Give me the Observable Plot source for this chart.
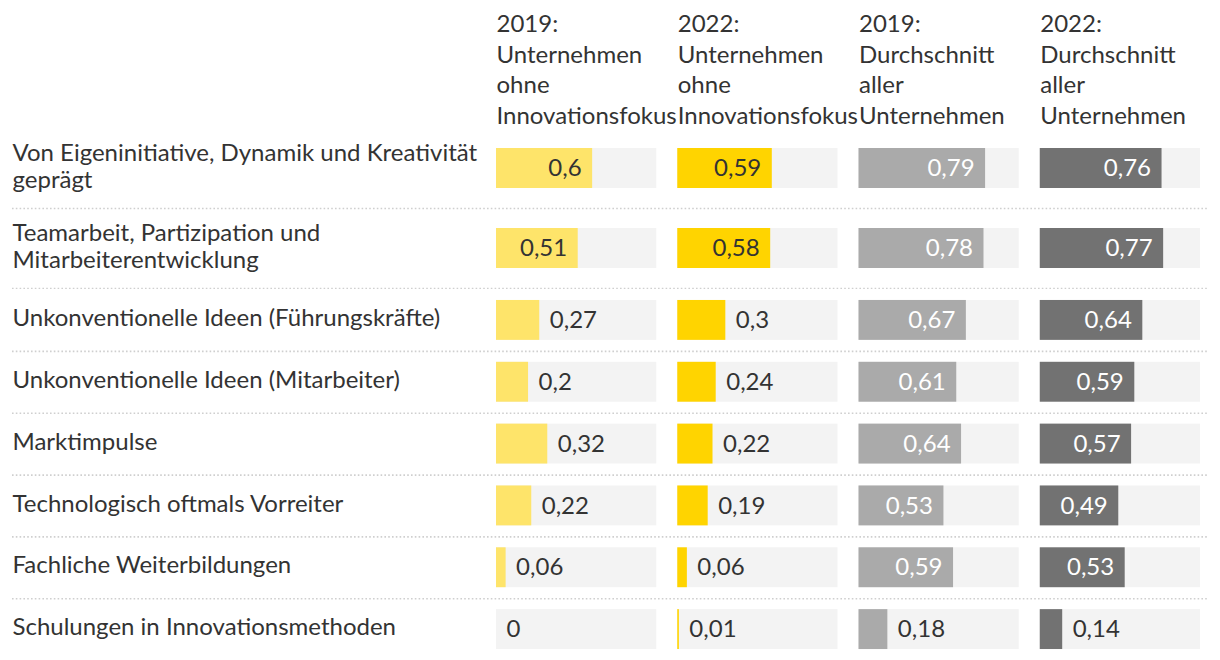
<!DOCTYPE html>
<html>
<head>
<meta charset="utf-8">
<script src="https://cdn.jsdelivr.net/npm/d3@7"></script>
<script src="https://cdn.jsdelivr.net/npm/@observablehq/plot@0.6"></script>
<style>
  html, body { margin: 0; padding: 0; background: #fff; }
  #chart svg { display: block; }
</style>
</head>
<body>
<div id="chart"></div>
<script>
// ---- data ----
const rows = [
  "Von Eigeninitiative, Dynamik und Kreativität\ngeprägt",
  "Teamarbeit, Partizipation und\nMitarbeiterentwicklung",
  "Unkonventionelle Ideen (Führungskräfte)",
  "Unkonventionelle Ideen (Mitarbeiter)",
  "Marktimpulse",
  "Technologisch oftmals Vorreiter",
  "Fachliche Weiterbildungen",
  "Schulungen in Innovationsmethoden"
];
const columns = [
  "2019:\nUnternehmen\nohne\nInnovationsfokus",
  "2022:\nUnternehmen\nohne\nInnovationsfokus",
  "2019:\nDurchschnitt\naller\nUnternehmen",
  "2022:\nDurchschnitt\naller\nUnternehmen"
];
const v2019ohne = [0.6, 0.51, 0.27, 0.2, 0.32, 0.22, 0.06, 0];
const v2022ohne = [0.59, 0.58, 0.3, 0.24, 0.22, 0.19, 0.06, 0.01];
const v2019alle = [0.79, 0.78, 0.67, 0.61, 0.64, 0.53, 0.59, 0.18];
const v2022alle = [0.76, 0.77, 0.64, 0.59, 0.57, 0.49, 0.53, 0.14];
const colColors = ["#fee46a", "#ffd400", "#aaaaaa", "#727272"];
const insideTextColors = ["#333333", "#333333", "#ffffff", "#ffffff"];

// ---- table ----
const series = [v2019ohne, v2022ohne, v2019alle, v2022alle];
const table = [];
rows.forEach((r, i) => series.forEach((s, j) => table.push({row: r, col: columns[j], ci: j, value: s[i]})));
const fmt = v => String(v).replace(".", ",");
const threshold = 0.4;

const W = 1220, ML = 496, MR = 20;
const FS = 24;
const fxPad = 0.116;
const bw = (W - ML - MR) * (1 - fxPad) / (columns.length - fxPad);

function makePlot(rowSet, cfg) {
  const data = table.filter(d => rowSet.includes(d.row));
  const marks = [
    Plot.barX(data, {x1: () => 0, x2: () => 1, y: "row", fx: "col", fill: "#f3f3f3"}),
    Plot.barX(data, {x1: () => 0, x2: "value", y: "row", fx: "col", fill: "col"}),
    Plot.text(data.filter(d => d.value >= threshold), {
      x: "value", y: "row", fx: "col", text: d => fmt(d.value),
      textAnchor: "end", dx: -11, fontSize: FS,
      fill: d => insideTextColors[d.ci]
    }),
    Plot.text(data.filter(d => d.value < threshold), {
      x: "value", y: "row", fx: "col", text: d => fmt(d.value),
      textAnchor: "start", dx: 10, fontSize: FS, fill: "#333"
    }),
    // separators: drawn once (in the first facet) and stretched across the whole row
    Plot.ruleY(cfg.sepRows, {
      y: d => d, fx: () => columns[0], dy: cfg.sepDy,
      insetLeft: -(ML - 12), insetRight: -((W - MR + 8) - (ML + bw)),
      stroke: "#cfcfcf", strokeWidth: 1.6, strokeDasharray: "1.6,2.2"
    }),
    Plot.axisY({
      tickSize: 0, tickPadding: ML - 12, textAnchor: "start", dy: -3,
      fontSize: FS, fill: "#333", lineHeight: 1.125, label: null
    })
  ];
  if (cfg.header) {
    marks.push(Plot.axisFx({
      anchor: "top", tickSize: 0, tickPadding: 5, textAnchor: "start",
      dx: -bw / 2, fontSize: FS, fill: "#333", lineHeight: 1.27, label: null
    }));
  }
  return Plot.plot({
    width: W,
    height: cfg.height,
    marginLeft: ML,
    marginRight: MR,
    marginTop: cfg.marginTop,
    marginBottom: cfg.marginBottom,
    style: {fontFamily: "Lato", fontSize: FS + "px", color: "#333", background: "#fff"},
    x: {domain: [0, 1], axis: null},
    y: {domain: rowSet, paddingInner: cfg.pi, paddingOuter: cfg.po, round: false, axis: null},
    fx: {domain: columns, paddingInner: fxPad, paddingOuter: 0, round: false, axis: cfg.header ? undefined : null, label: null},
    color: {domain: columns, range: colColors},
    marks
  });
}

const topRows = rows.slice(0, 2);
const bottomRows = rows.slice(2);

const plotA = makePlot(topRows, {
  height: 289, marginTop: 128, marginBottom: 1, pi: 0.5, po: 0.25,
  sepRows: topRows, sepDy: 40, header: true
});
const plotB = makePlot(bottomRows, {
  height: 371, marginTop: 0, marginBottom: 0, pi: 22 / 62, po: 11 / 62,
  sepRows: bottomRows.slice(0, -1), sepDy: 31, header: false
});
document.getElementById("chart").append(plotA, plotB);
</script>
</body>
</html>
